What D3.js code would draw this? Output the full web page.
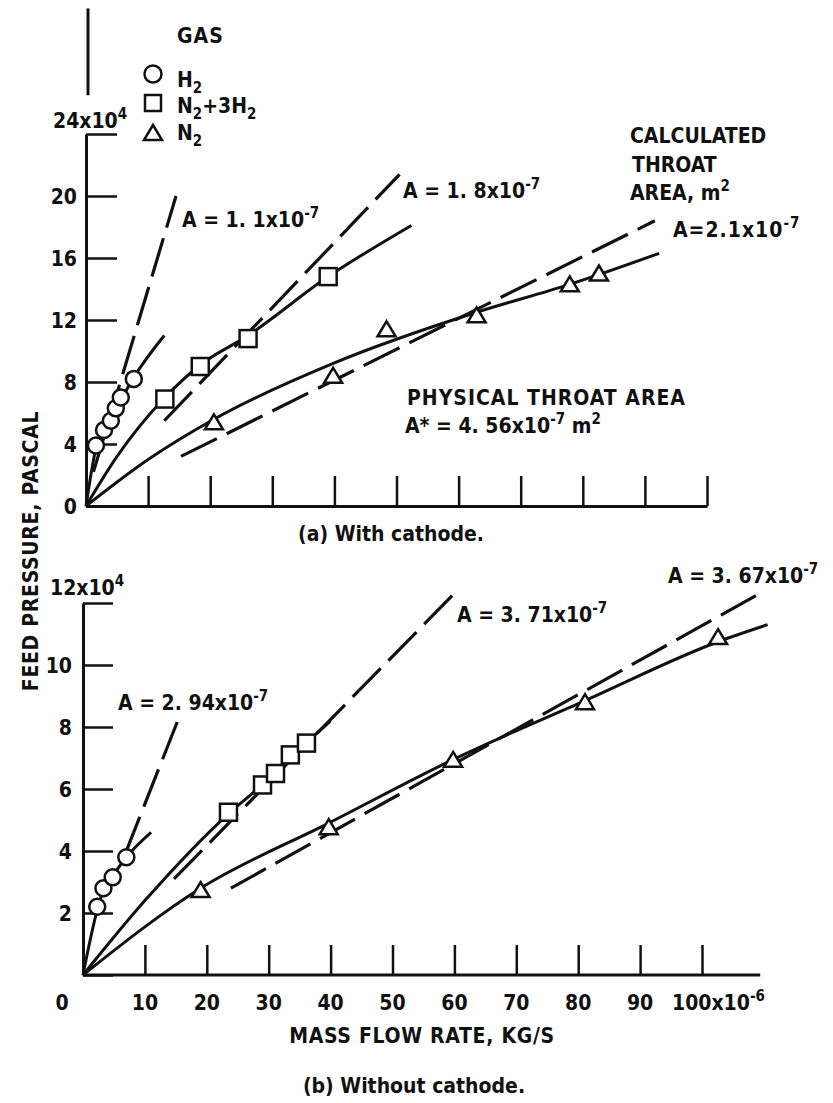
<!DOCTYPE html>
<html>
<head>
<meta charset="utf-8">
<script src="https://cdn.jsdelivr.net/npm/d3@7"></script>
<style>
body { margin: 0; background: #fff; }
svg text { font-family: "Liberation Sans Narrow", "DejaVu Sans Condensed", "Arial Narrow", sans-serif; font-weight: bold; font-size: 21px; fill: #111; }
</style>
</head>
<body>
<svg id="chart" width="833" height="1103"></svg>
<script>
// ticks
const xTicks = [10, 20, 30, 40, 50, 60, 70, 80, 90, 100]
const xTickLabels = ['0', '10', '20', '30', '40', '50', '60', '70', '80', '90', '100x10']
const yTicksA = [0, 4, 8, 12, 16, 20, 24]
const yTicksB = [0, 2, 4, 6, 8, 10, 12]

// (a) with cathode -- x in 1e-6 kg/s, y in 1e4 Pa
const h2A = [[1.6, 3.9], [2.9, 4.9], [4.0, 5.5], [4.8, 6.3], [5.6, 7.0], [7.7, 8.2]]
const mixA = [[12.7, 6.9], [18.4, 9.0], [26.1, 10.8], [39.0, 14.8]]
const n2A = [[20.6, 5.4], [39.8, 8.4], [48.4, 11.4], [62.9, 12.3], [77.9, 14.3], [82.6, 15.0]]
const h2FitA = [[0, 0], [1.6, 3.7], [4.0, 5.6], [7.7, 8.3], [12.6, 11.0]]
const mixFitA = [[0, 0], [5, 3.2], [12.7, 7.0], [18.4, 9.1], [26.1, 11.0], [39, 14.8], [52.4, 18.1]]
const n2FitA = [[0, 0], [10, 3.0], [20.6, 5.6], [39.8, 9.2], [62.9, 12.5], [77.9, 14.3], [92.3, 16.3]]
const h2CalcA = [[1.2, 2.2], [14.5, 20.0]]
const mixCalcA = [[12.6, 5.5], [50.5, 21.4]]
const n2CalcA = [[15.3, 3.2], [91.6, 18.4]]

// (b) without cathode
const h2B = [[2.3, 2.2], [3.3, 2.8], [4.8, 3.15], [7.0, 3.8]]
const mixB = [[23.5, 5.25], [29.0, 6.13], [31.1, 6.5], [33.5, 7.1], [36.1, 7.48]]
const n2B = [[19.0, 2.74], [39.7, 4.77], [59.8, 6.94], [81.1, 8.8], [102.6, 10.9]]
const h2FitB = [[0, 0], [2.3, 2.1], [3.3, 2.75], [4.8, 3.2], [7.0, 3.8], [11.0, 4.6]]
const mixFitB = [[0, 0], [10, 2.4], [23.5, 5.2], [29, 6.15], [33.5, 7.05], [36.1, 7.5], [40, 8.2]]
const n2FitB = [[0, 0], [19, 2.8], [39.7, 4.9], [59.8, 6.95], [81.1, 8.85], [102.6, 10.75], [110.6, 11.3]]
const h2CalcB = [[6.8, 3.9], [15.3, 8.2]]
const mixCalcB = [[14.7, 3.1], [60.2, 12.35]]
const n2CalcB = [[23.9, 2.8], [109.7, 12.35]]

let svg = d3.select('#chart')
const ink = '#111'

let xA = d3.scaleLinear().domain([0, 100]).range([86, 707])
let yA = d3.scaleLinear().domain([0, 24]).range([506, 134])
let xB = d3.scaleLinear().domain([0, 100]).range([83, 702])
let yB = d3.scaleLinear().domain([0, 12]).range([975, 603])

// text with sub / superscripts: parts = [[string, 'sup'|'sub'|undefined], ...]
let richText = (g, x, y, parts, anchor) => {
	const t = g.append('text').attr('x', x).attr('y', y).attr('text-anchor', anchor || 'start')
	let shift = 0
	parts.forEach(([s, kind]) => {
		const target = kind === 'sup' ? -9 : kind === 'sub' ? 6 : 0
		const ts = t.append('tspan').attr('dy', target - shift).text(s)
		if (kind) ts.style('font-size', '15px')
		shift = target
	})
	return t
}

let styleAxis = (g) => {
	g.select('.domain').attr('stroke', ink).attr('stroke-width', 3)
	g.selectAll('.tick line').attr('stroke', ink).attr('stroke-width', 2.5)
}

let drawPanel = (g, x, y, sets) => {
	const line = d3.line().x(d => x(d[0])).y(d => y(d[1]))
	const curve = d3.line().x(d => x(d[0])).y(d => y(d[1])).curve(d3.curveMonotoneX)

	sets.forEach(s => {
		g.append('path').datum(s.fit).attr('d', curve)
			.attr('fill', 'none').attr('stroke', ink).attr('stroke-width', 3)
		g.append('path').datum(s.calc).attr('d', line)
			.attr('fill', 'none').attr('stroke', ink).attr('stroke-width', 3.2)
			.attr('stroke-dasharray', '40,11')
	})
	sets.forEach(s => {
		const pts = g.selectAll(null).data(s.pts).enter()
		if (s.shape === 'circle') {
			pts.append('circle').attr('cx', d => x(d[0])).attr('cy', d => y(d[1])).attr('r', 8)
				.attr('fill', '#fff').attr('stroke', ink).attr('stroke-width', 2.5)
		} else if (s.shape === 'square') {
			pts.append('rect').attr('x', d => x(d[0]) - 8.5).attr('y', d => y(d[1]) - 8.5)
				.attr('width', 17).attr('height', 17)
				.attr('fill', '#fff').attr('stroke', ink).attr('stroke-width', 2.5)
		} else {
			pts.append('path').attr('transform', d => `translate(${x(d[0])},${y(d[1])})`)
				.attr('d', 'M0,-8L9,7L-9,7Z')
				.attr('fill', '#fff').attr('stroke', ink).attr('stroke-width', 2.5)
		}
	})
}

// ---------- panel (a) ----------
let gA = svg.append('g')

gA.append('g').attr('transform', `translate(0,${yA(0)})`)
	.call(d3.axisBottom(xA).tickValues(xTicks).tickSizeInner(-30).tickSizeOuter(0).tickFormat(''))
	.call(styleAxis)

gA.append('g').attr('transform', `translate(${xA(0)},0)`)
	.call(d3.axisLeft(yA).tickValues(yTicksA).tickSizeInner(-31).tickSizeOuter(0).tickPadding(9)
		.tickFormat(d => d === 24 ? '' : d))
	.call(styleAxis)
	.call(g => g.selectAll('text').attr('dy', '0.36em'))

// upper stub of the axis above the 24x10^4 label
gA.append('line').attr('x1', xA(0) + 2).attr('x2', xA(0) + 2)
	.attr('y1', yA(32.1)).attr('y2', yA(26.5))
	.attr('stroke', ink).attr('stroke-width', 3)

richText(gA, 53, yA(24) - 6, [['24x10'], ['4', 'sup']])

drawPanel(gA, xA, yA, [
	{ pts: h2A, fit: h2FitA, calc: h2CalcA, shape: 'circle' },
	{ pts: mixA, fit: mixFitA, calc: mixCalcA, shape: 'square' },
	{ pts: n2A, fit: n2FitA, calc: n2CalcA, shape: 'triangle' }
])

// legend
gA.append('text').attr('x', 177).attr('y', 43).style('letter-spacing', '1px').text('GAS')
gA.append('circle').attr('cx', 153).attr('cy', 74).attr('r', 8.5)
	.attr('fill', '#fff').attr('stroke', ink).attr('stroke-width', 2.5)
gA.append('rect').attr('x', 145).attr('y', 95).attr('width', 16).attr('height', 16)
	.attr('fill', '#fff').attr('stroke', ink).attr('stroke-width', 2.5)
gA.append('path').attr('transform', 'translate(153,133)').attr('d', 'M0,-8L9,7L-9,7Z')
	.attr('fill', '#fff').attr('stroke', ink).attr('stroke-width', 2.5)
richText(gA, 177, 87, [['H'], ['2', 'sub']])
richText(gA, 177, 113, [['N'], ['2', 'sub'], ['+3H'], ['2', 'sub']])
richText(gA, 177, 140, [['N'], ['2', 'sub']])

// annotations (a)
richText(gA, 182, 227, [['A  =  1. 1x10'], ['-7', 'sup']])
richText(gA, 403, 198, [['A  =  1. 8x10'], ['-7', 'sup']])
gA.append('text').attr('x', 630).attr('y', 143).text('CALCULATED')
gA.append('text').attr('x', 632).attr('y', 172).text('THROAT')
richText(gA, 630, 200, [['AREA,  m'], ['2', 'sup']])
richText(gA, 673, 237, [['A=2.1x10'], ['-7', 'sup']]).style('letter-spacing', '1px')
gA.append('text').attr('x', 407).attr('y', 405).style('letter-spacing', '1px').text('PHYSICAL  THROAT  AREA')
richText(gA, 405, 433, [['A*  =  4. 56x10'], ['-7', 'sup'], [' m'], ['2', 'sup']])

gA.append('text').attr('x', 391).attr('y', 541).attr('text-anchor', 'middle')
	.text('(a) With cathode.')

// ---------- panel (b) ----------
let gB = svg.append('g')

gB.append('g').attr('transform', `translate(0,${yB(0)})`)
	.call(d3.axisBottom(xB).tickValues(xTicks).tickSizeInner(-30).tickSizeOuter(0).tickFormat(''))
	.call(styleAxis)
	.call(g => g.select('.domain').attr('d', `M${xB(0)},0H${xB(109.4)}`))

gB.append('g').attr('transform', `translate(${xB(0)},0)`)
	.call(d3.axisLeft(yB).tickValues(yTicksB).tickSizeInner(-30).tickSizeOuter(0).tickPadding(11)
		.tickFormat(d => (d === 12 || d === 0) ? '' : d))
	.call(styleAxis)
	.call(g => g.selectAll('text').attr('dy', '0.36em'))

richText(gB, 50, yB(12) - 8, [['12x10'], ['4', 'sup']])

// x tick labels
const xLabelVals = [0].concat(xTicks)
xLabelVals.forEach((v, i) => {
	if (v === 0) {
		gB.append('text').attr('x', xB(0) - 21).attr('y', 1010).attr('text-anchor', 'middle').text(xTickLabels[i])
	} else if (v === 100) {
		richText(gB, xB(100) - 30, 1010, [[xTickLabels[i]], ['-6', 'sup']])
	} else {
		gB.append('text').attr('x', xB(v)).attr('y', 1010).attr('text-anchor', 'middle').text(xTickLabels[i])
	}
})

drawPanel(gB, xB, yB, [
	{ pts: h2B, fit: h2FitB, calc: h2CalcB, shape: 'circle' },
	{ pts: mixB, fit: mixFitB, calc: mixCalcB, shape: 'square' },
	{ pts: n2B, fit: n2FitB, calc: n2CalcB, shape: 'triangle' }
])

richText(gB, 118, 710, [['A  =  2. 94x10'], ['-7', 'sup']])
richText(gB, 457, 622, [['A  =  3. 71x10'], ['-7', 'sup']])
richText(gB, 668, 583, [['A  =  3. 67x10'], ['-7', 'sup']])

gB.append('text').attr('x', 422).attr('y', 1043).attr('text-anchor', 'middle')
	.style('letter-spacing', '0.7px').text('MASS FLOW RATE, KG/S')
gB.append('text').attr('x', 414).attr('y', 1093).attr('text-anchor', 'middle')
	.text('(b) Without cathode.')

// shared y label
svg.append('text').attr('transform', 'translate(38,551) rotate(-90)').attr('text-anchor', 'middle')
	.style('letter-spacing', '0.7px').text('FEED PRESSURE, PASCAL')
</script>
</body>
</html>
